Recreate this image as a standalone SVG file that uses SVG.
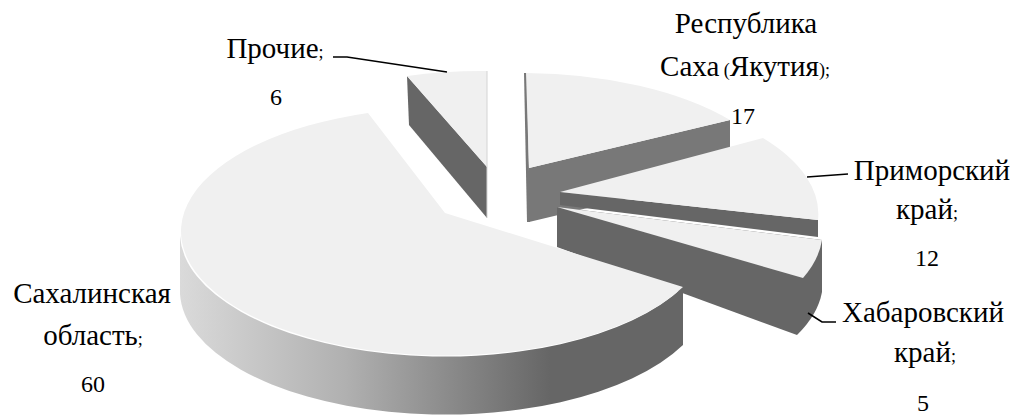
<svg xmlns="http://www.w3.org/2000/svg" width="1017" height="418" viewBox="0 0 1017 418">
<defs>
<linearGradient id="sideGrad" gradientUnits="userSpaceOnUse" x1="180" y1="0" x2="550" y2="0">
<stop offset="0" stop-color="#dadada"/>
<stop offset="0.45" stop-color="#b0b0b0"/>
<stop offset="1" stop-color="#666666"/>
</linearGradient>
<style>
.top{fill:#f0f0f0}
.dark{fill:#666666}
.mid{fill:#787878}
.lbl{fill:#000;text-anchor:middle}
.lead{fill:none;stroke:#000;stroke-width:1.6}
</style>
</defs>
<rect width="1017" height="418" fill="#ffffff"/>

<g id="slice-prochie">
<path class="dark" d="M407,76 L487,167 L487,218 L409,125 Z"/>
<path class="top" d="M487,167 L407,76 A265,124 0 0,1 487,71 Z"/>
<path d="M487,71 L487,218" stroke="#d4d4d4" stroke-width="1" fill="none"/>
</g>

<g id="slice-sakha">
<path class="mid" d="M529,168 L730,120 L730,174 L529,222 Z"/>
<path class="mid" d="M524,73 L527,73 L530,222 L527,222 Z"/>
<path class="top" d="M529,168 L526,73 A265,124 0 0,1 730,120 Z"/>
</g>

<g id="slice-primorsky">
<path class="dark" d="M560,192 L818,220 L818,237 L560,205 Z"/>
<path class="top" d="M560,192 L763,138 A265,124 0 0,1 818,220 Z"/>
</g>

<g id="slice-khabarovsk">
<path class="dark" d="M557,207 L822,240 L822,292 A265,124 0 0,1 797,335 L557,247 Z"/>
<path class="top" d="M557,207 L822,240 A265,124 0 0,1 803,278 Z"/>
</g>

<g id="slice-sakhalin">
<path fill="url(#sideGrad)" d="M180,236 A265,124 0 0,0 683,287 L683,345 A265,124 0 0,1 180,294 Z"/>
<path class="top" d="M445,213 L368,113 A265,124 0 1,0 683,287 Z"/>
</g>

<g id="connectors">
<path class="lead" d="M333,57 L347,57 L447,72"/>
<path class="lead" d="M807,177 L848,174"/>
<path class="lead" d="M808,313 L822,322 L836,322"/>
</g>

<g id="label-prochie">
<text class="lbl" font-family="Liberation Serif" font-size="29" x="275" y="58">Прочие<tspan font-size="18">;</tspan></text>
<text class="lbl" font-family="Liberation Serif" font-size="24" x="276" y="105">6</text>
</g>
<g id="label-sakha">
<text class="lbl" font-family="Liberation Serif" font-size="29" x="746" y="33">Республика</text>
<text class="lbl" font-family="Liberation Serif" font-size="29" x="745" y="76">Саха<tspan font-size="18"> (</tspan>Якутия<tspan font-size="18">);</tspan></text>
<text class="lbl" font-family="Liberation Serif" font-size="24" x="743" y="124">17</text>
</g>
<g id="label-primorsky">
<text class="lbl" font-family="Liberation Serif" font-size="29" x="932" y="180">Приморский</text>
<text class="lbl" font-family="Liberation Serif" font-size="29" x="927" y="219">край<tspan font-size="18">;</tspan></text>
<text class="lbl" font-family="Liberation Serif" font-size="24" x="927" y="266">12</text>
</g>
<g id="label-khabarovsk">
<text class="lbl" font-family="Liberation Serif" font-size="29" x="923" y="322">Хабаровский</text>
<text class="lbl" font-family="Liberation Serif" font-size="29" x="925" y="362">край<tspan font-size="18">;</tspan></text>
<text class="lbl" font-family="Liberation Serif" font-size="24" x="923" y="411">5</text>
</g>
<g id="label-sakhalin">
<text class="lbl" font-family="Liberation Serif" font-size="29" x="92" y="303">Сахалинская</text>
<text class="lbl" font-family="Liberation Serif" font-size="29" x="93" y="345">область<tspan font-size="18">;</tspan></text>
<text class="lbl" font-family="Liberation Serif" font-size="24" x="93" y="392">60</text>
</g>
</svg>
